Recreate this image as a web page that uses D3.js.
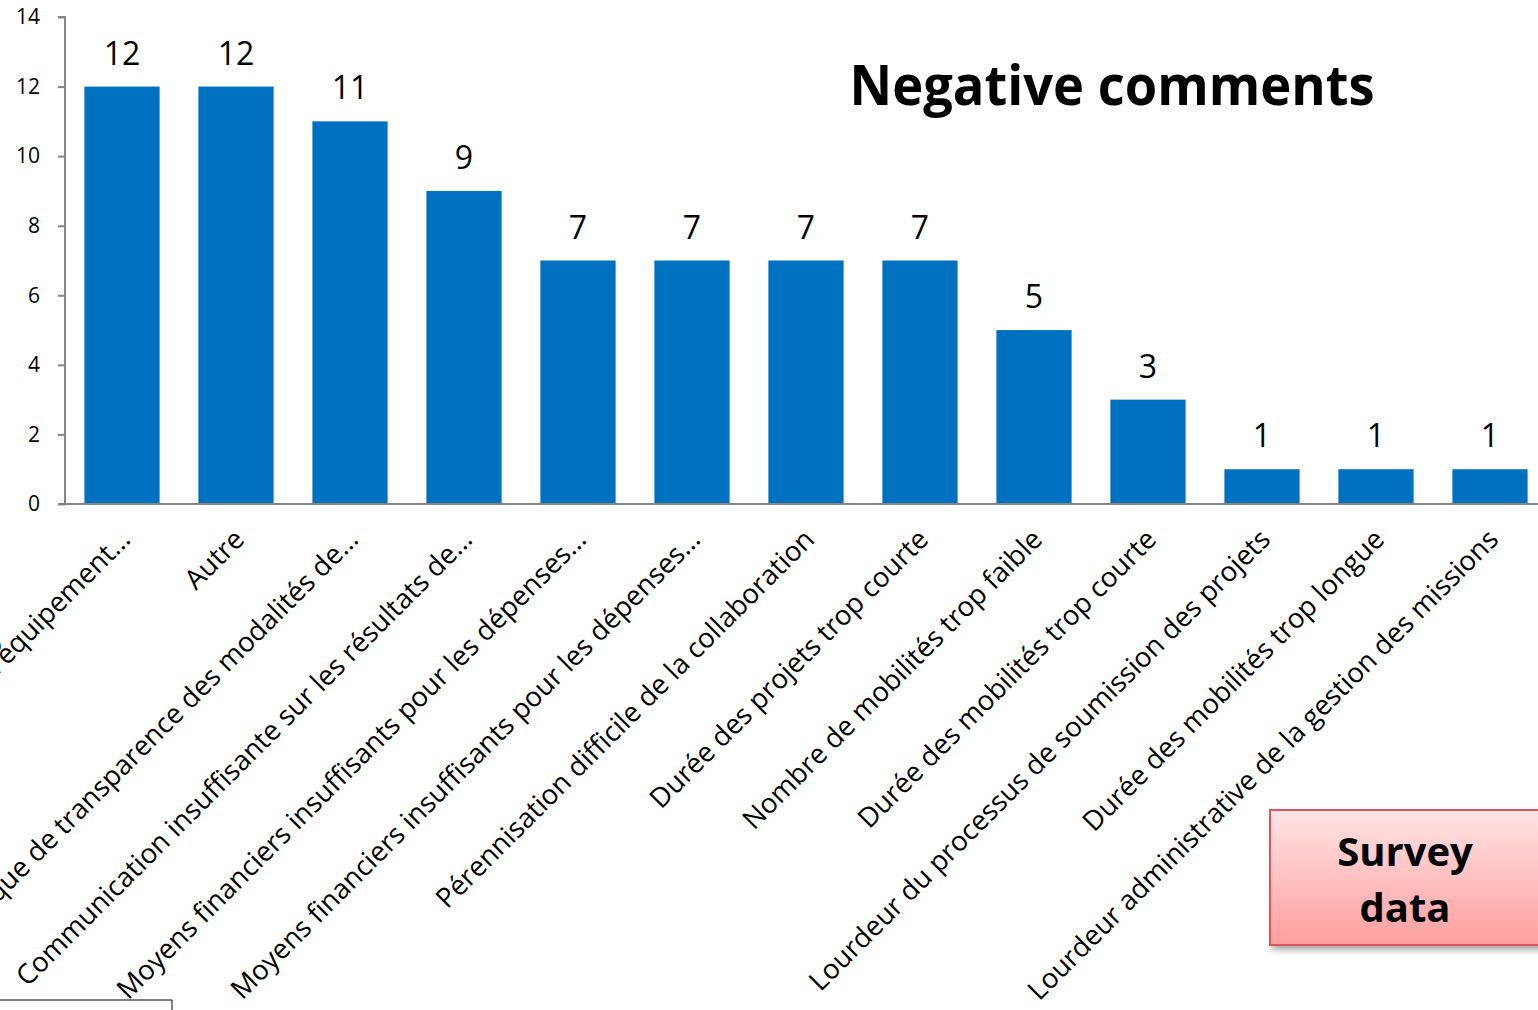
<!DOCTYPE html>
<html><head><meta charset="utf-8">
<script src="https://cdn.jsdelivr.net/npm/d3@7"></script>
<style>body{margin:0;background:#fff;overflow:hidden}svg{display:block}</style>
</head><body>
<svg id="c" width="1538" height="1010"></svg>
<script>
const categories = [
  "Manque d'équipement…",
  "Autre",
  "Manque de transparence des modalités de…",
  "Communication insuffisante sur les résultats de…",
  "Moyens financiers insuffisants pour les dépenses…",
  "Moyens financiers insuffisants pour les dépenses…",
  "Pérennisation difficile de la collaboration",
  "Durée des projets trop courte",
  "Nombre de mobilités trop faible",
  "Durée des mobilités trop courte",
  "Lourdeur du processus de soumission des projets",
  "Durée des mobilités trop longue",
  "Lourdeur administrative de la gestion des missions"
];
const values = [12, 12, 11, 9, 7, 7, 7, 7, 5, 3, 1, 1, 1];
const yTicks = [0, 2, 4, 6, 8, 10, 12, 14];
const title = "Negative comments";
const badge = ["Survey", "data"];

const svg = d3.select("#c");
const x0 = 65, x1 = 65 + 114 * 13, yTop = 17, yBot = 504;
const x = d3.scaleBand().domain(d3.range(categories.length)).range([x0, x1]).paddingInner(0.34).paddingOuter(0.17);
const y = d3.scaleLinear().domain([0, 14]).range([yBot, yTop]);

// bars
svg.append("g").selectAll("rect").data(values).join("rect")
  .attr("x", (d, i) => x(i)).attr("width", x.bandwidth())
  .attr("y", d => y(d)).attr("height", d => y(0) - y(d))
  .attr("fill", "#0070c0");

// y axis
const ya = svg.append("g").attr("transform", `translate(${x0},0)`)
  .call(d3.axisLeft(y).tickValues(yTicks).tickSize(7).tickPadding(18).tickFormat(d3.format("d")));
ya.select(".domain").attr("stroke", "#868686").attr("stroke-width", 2).attr("d", `M-7,${yTop}H0V${yBot}`);
ya.selectAll(".tick line").attr("stroke", "#868686").attr("stroke-width", 2);
ya.selectAll(".tick text").attr("font-family", "'Open Sans', sans-serif").attr("font-size", 21).attr("fill", "#000").attr("text-anchor", "end").attr("dx", 0);

// x axis
const xa = svg.append("g").attr("transform", `translate(0,${yBot})`)
  .call(d3.axisBottom(x).tickSize(0).tickFormat(i => categories[i]));
xa.select(".domain").attr("stroke", "#868686").attr("stroke-width", 2).attr("d", `M${x0 - 7},0H1538`);
xa.selectAll(".tick text")
  .attr("font-family", "'Open Sans', sans-serif").attr("font-size", 27.5).attr("fill", "#000")
  .attr("text-anchor", "end").attr("dy", 0).attr("y", 0)
  .attr("transform", "translate(10,37) rotate(-45)");

// value labels
svg.append("g").selectAll("text").data(values).join("text")
  .attr("x", (d, i) => x(i) + x.bandwidth() / 2).attr("y", d => y(d) - 22)
  .attr("text-anchor", "middle").attr("font-family", "'Open Sans', sans-serif").attr("font-size", 32)
  .attr("fill", "#000").text(d => d);

// title
svg.append("text").attr("x", 1112).attr("y", 105).attr("text-anchor", "middle")
  .attr("font-family", "'Open Sans', sans-serif").attr("font-weight", "bold").attr("font-size", 56)
  .attr("textLength", 525).attr("lengthAdjust", "spacingAndGlyphs")
  .attr("fill", "#000").text(title);

// badge
const defs = svg.append("defs");
const g = defs.append("linearGradient").attr("id", "pink").attr("x1", 0).attr("y1", 0).attr("x2", 0).attr("y2", 1);
g.append("stop").attr("offset", "0%").attr("stop-color", "#ffe3e3");
g.append("stop").attr("offset", "100%").attr("stop-color", "#ff9f9f");
const f = defs.append("filter").attr("id", "sh").attr("x", "-10%").attr("y", "-10%").attr("width", "130%").attr("height", "130%");
f.append("feDropShadow").attr("dx", 3).attr("dy", 4).attr("stdDeviation", 3).attr("flood-color", "#000").attr("flood-opacity", 0.35);
svg.append("rect").attr("x", 1270).attr("y", 810).attr("width", 280).attr("height", 135)
  .attr("fill", "url(#pink)").attr("stroke", "#d9575a").attr("stroke-width", 2).attr("filter", "url(#sh)");
svg.append("g").selectAll("text").data(badge).join("text")
  .attr("x", 1405).attr("y", (d, i) => 866 + i * 56).attr("text-anchor", "middle")
  .attr("font-family", "'Open Sans', sans-serif").attr("font-weight", "bold").attr("font-size", 40)
  .attr("fill", "#000").text(d => d);

// bottom-left frame fragment
svg.append("path").attr("d", "M0,1000H172V1010").attr("fill", "none").attr("stroke", "#000").attr("stroke-width", 1);
</script>
</body></html>
